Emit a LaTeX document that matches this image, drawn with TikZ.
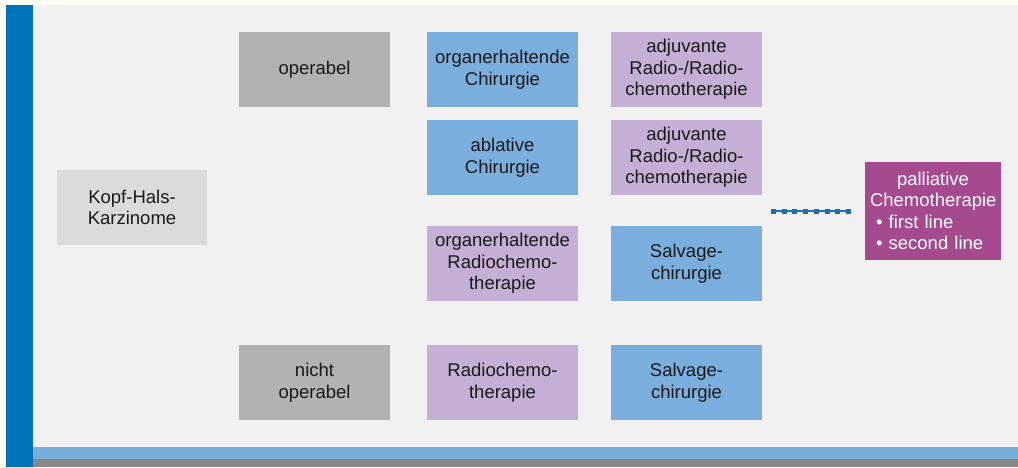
\documentclass[tikz,border=0pt]{standalone}
\usepackage{fontspec}
\setmainfont{Liberation Sans}
\definecolor{cream}{RGB}{255,254,242}
\definecolor{barblue}{RGB}{0,114,186}
\definecolor{panel}{RGB}{240,241,240}
\definecolor{stripblue}{RGB}{120,174,218}
\definecolor{stripgray}{RGB}{135,135,135}
\definecolor{startgray}{RGB}{218,219,218}
\definecolor{decgray}{RGB}{178,178,178}
\definecolor{opblue}{RGB}{122,174,220}
\definecolor{rclilac}{RGB}{197,176,213}
\definecolor{palpurple}{RGB}{165,74,143}
\definecolor{dotblue}{RGB}{30,111,181}
\definecolor{textgray}{RGB}{26,26,26}
\begin{document}
\begin{tikzpicture}[x=1pt, y=-1pt,
        box/.style={minimum width=151pt, minimum height=75pt, inner sep=0pt,
            align=center, text=textgray, font=\fontsize{18.5}{21.5}\selectfont},
        start/.style={box, fill=startgray},
        decision/.style={box, fill=decgray},
        surgery/.style={box, fill=opblue},
        radio/.style={box, fill=rclilac},
        palliative/.style={box, fill=palpurple, text=white, minimum width=136pt,
            minimum height=98pt, text width=126pt},
        dotline/.style={draw=dotblue, line width=1.5pt}]
    \useasboundingbox (0,0) rectangle (1018,467);

    % frame
    \fill[cream] (0,0) rectangle (1018,467);
    \fill[panel] (33,5) rectangle (1018,447);
    \fill[barblue] (6,5) rectangle (33,467);
    \fill[stripblue] (33,447) rectangle (1018,459);
    \fill[stripgray] (33,459) rectangle (1018,467);

    \node[start, minimum width=150pt] (khk) at (132, 207.5) {Kopf-Hals-\\Karzinome};

    \node[decision] (op) at (314.5, 69.5) {operabel};
    \node[decision] (nop) at (314.5, 382.5) {nicht\\operabel};

    \node[surgery] (oec) at (502.5, 69.5) {organerhaltende\\Chirurgie};
    \node[surgery] (abc) at (502.5, 157.5) {ablative\\Chirurgie};
    \node[radio] (oer) at (502.5, 263.5) {organerhaltende\\Radiochemo-\\therapie};
    \node[radio] (rct) at (502.5, 382.5) {Radiochemo-\\therapie};

    \node[radio] (adj1) at (686.5, 69.5) {adjuvante\\Radio-/Radio-\\chemotherapie};
    \node[radio] (adj2) at (686.5, 157.5) {adjuvante\\Radio-/Radio-\\chemotherapie};
    \node[surgery] (salv1) at (686.5, 263.5) {Salvage-\\chirurgie};
    \node[surgery] (salv2) at (686.5, 382.5) {Salvage-\\chirurgie};

    \node[palliative] (pal) at (933, 211) {\centering palliative\\Chemotherapie\par
        \raggedright\hspace*{6pt}\textbullet\ first line\\\hspace*{6pt}\textbullet\ second line\par};

    \coordinate (dl) at (771, 211);
    \coordinate (dr) at (851, 211);
    \draw[dotline] (dl) -- (dr);
    \draw[dotline, line width=5pt, dash pattern=on 5pt off 5.71pt] (dl) -- (dr);
\end{tikzpicture}
\end{document}
